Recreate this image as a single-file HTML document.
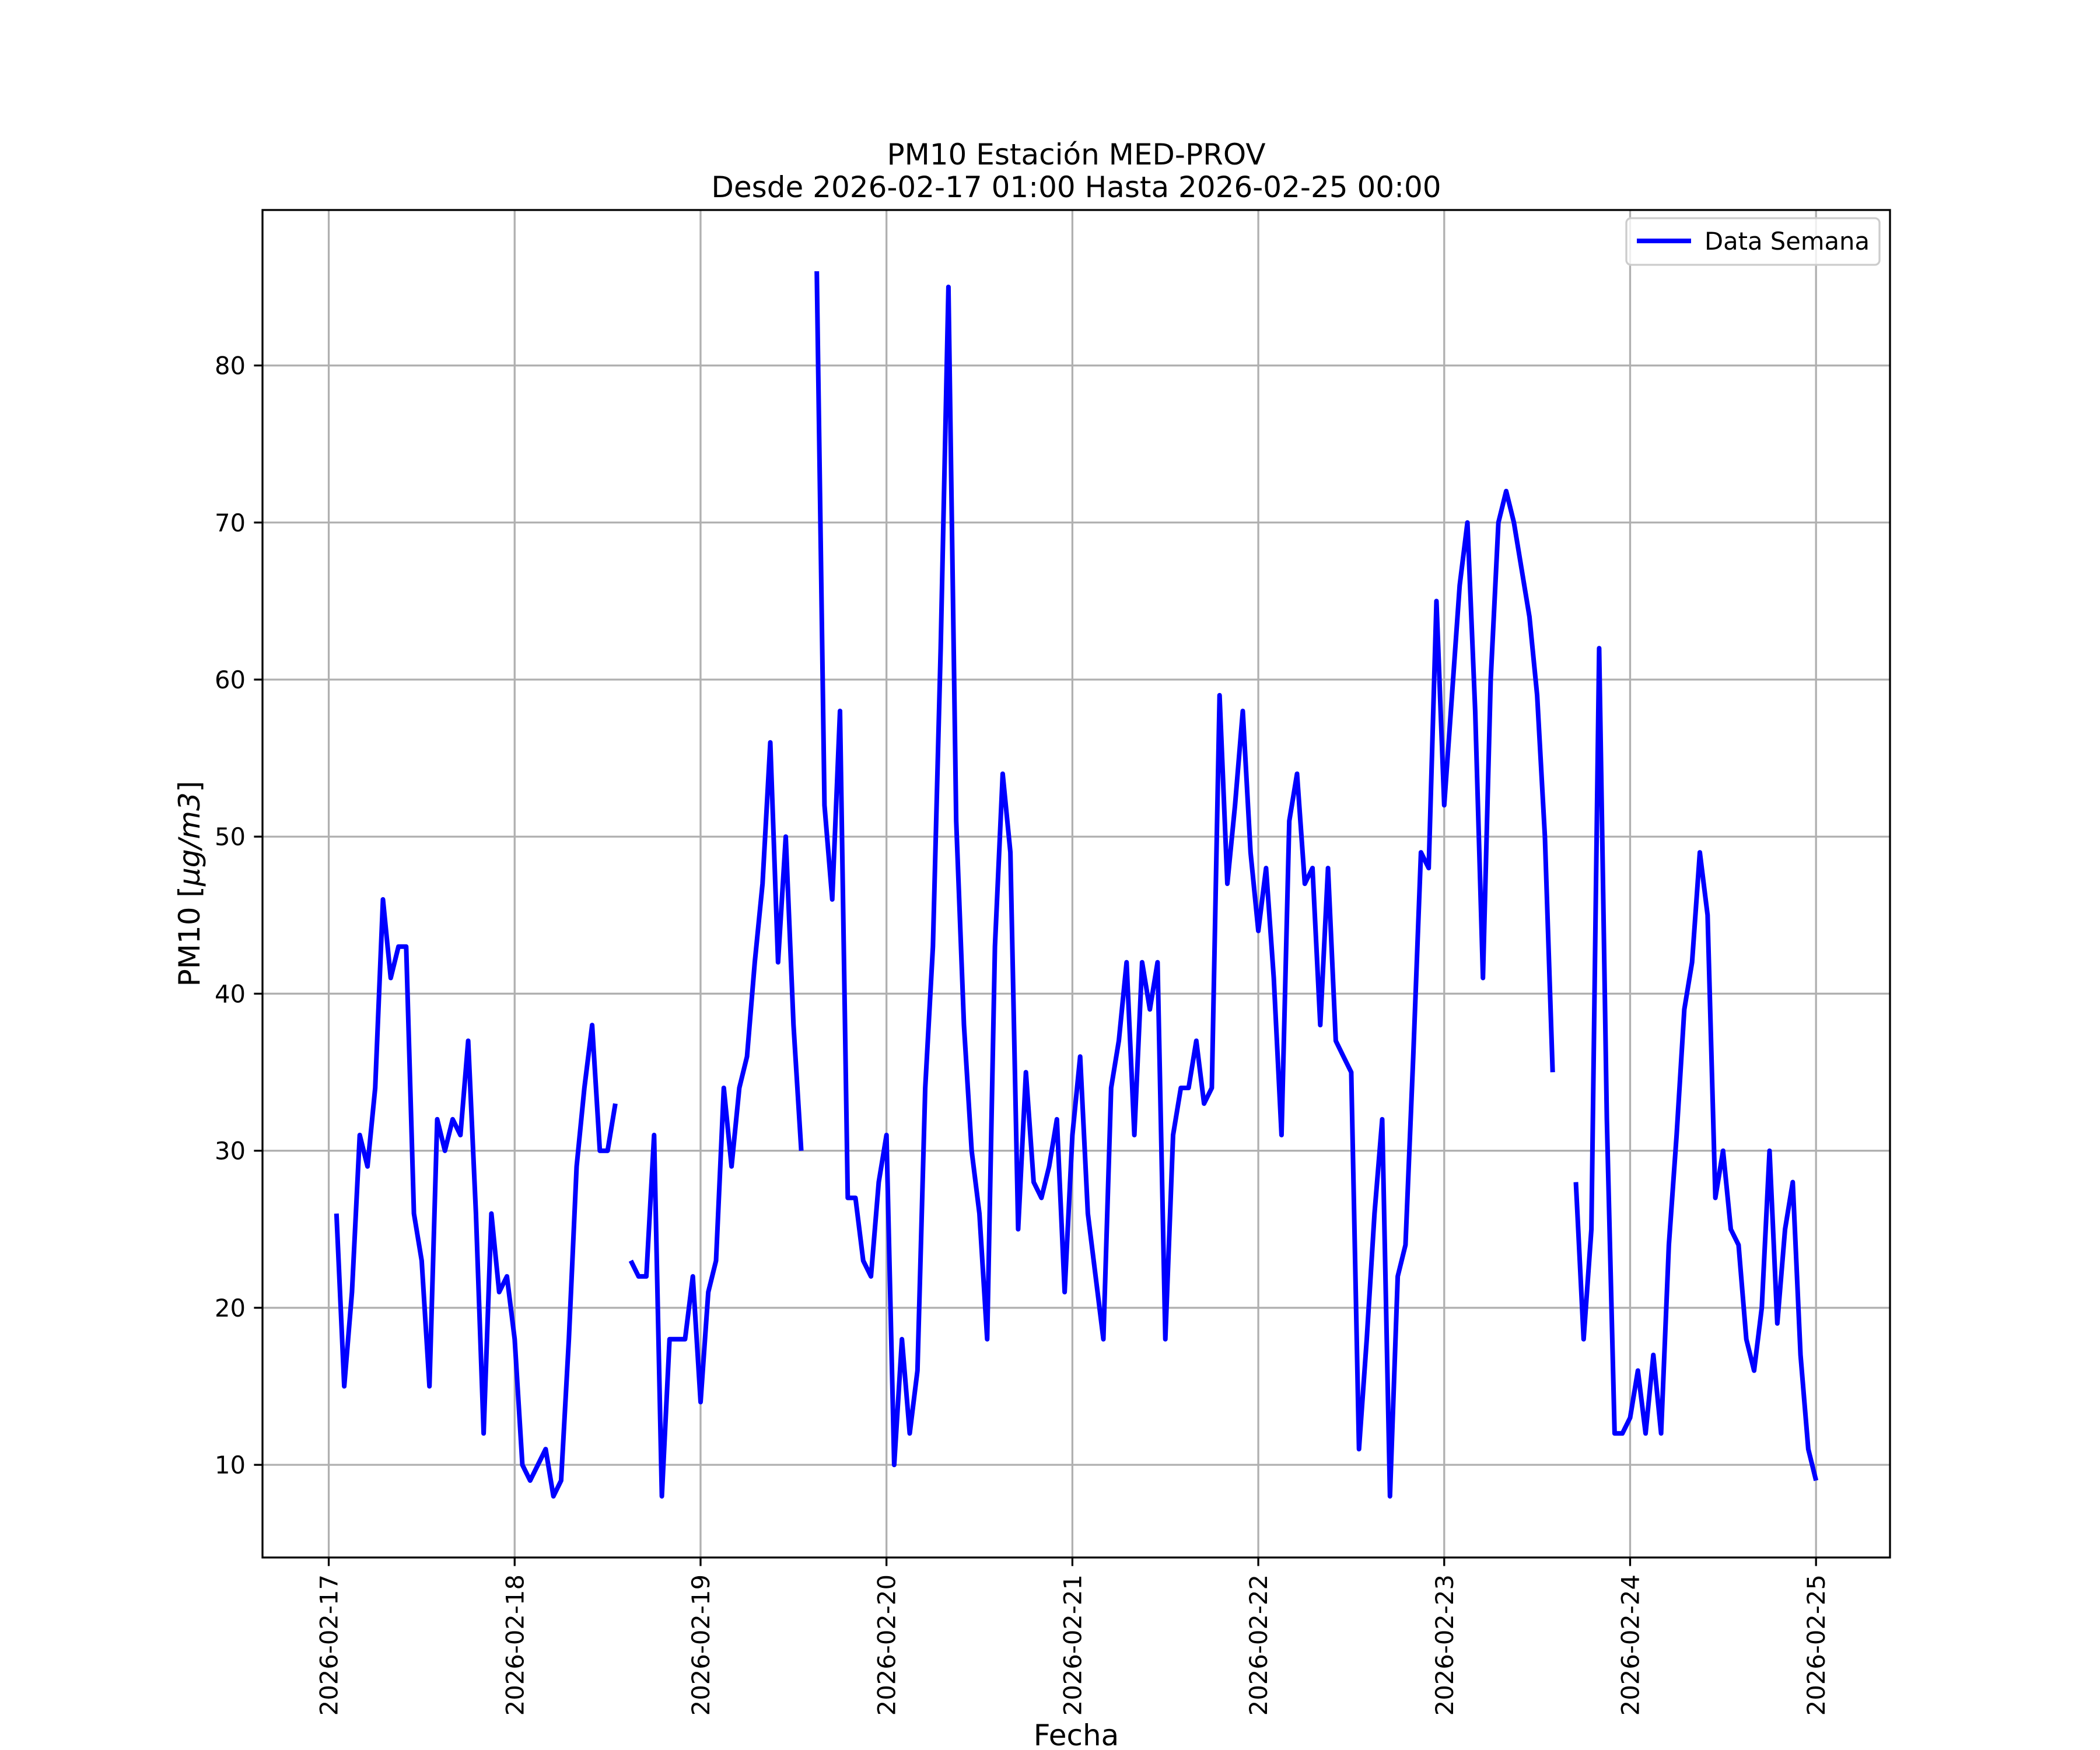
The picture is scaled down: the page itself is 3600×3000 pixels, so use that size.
<!DOCTYPE html>
<html><head><meta charset="utf-8">
<style>
html,body{margin:0;padding:0;background:#fff;}
svg{display:block;font-family:"DejaVu Sans","Liberation Sans",sans-serif;}
</style></head>
<body>
<svg id="chart" width="3600" height="3000" viewBox="0 0 3600 3000" xmlns="http://www.w3.org/2000/svg">
<rect x="0" y="0" width="3600" height="3000" fill="#fff"/>
<g id="grid"></g>
<g id="series"></g>
<rect x="450" y="360" width="2790" height="2310" fill="none" stroke="#000" stroke-width="3.3"/>
<g id="xticks"></g>
<g id="yticks"></g>
<text x="1845" y="282" font-size="50" text-anchor="middle">PM10 Estación MED-PROV</text>
<text x="1845" y="338" font-size="50" text-anchor="middle">Desde 2026-02-17 01:00 Hasta 2026-02-25 00:00</text>
<text x="1845" y="2992" font-size="50" text-anchor="middle">Fecha</text>
<text transform="translate(342,1515) rotate(-90)" font-size="50" text-anchor="middle">PM10 [<tspan font-style="italic">μg/m3</tspan>]</text>
<g>
<rect x="2788" y="374" width="434" height="80" rx="8" fill="#fff" fill-opacity="0.8" stroke="#ccc" stroke-width="3.3"/>
<line x1="2806" y1="413" x2="2899" y2="413" stroke="#0000ff" stroke-width="8"/>
<text x="2922" y="428" font-size="41.7">Data Semana</text>
</g>
</svg>
<script>
const values = [26,15,21,31,29,34,46,41,43,43,26,23,15,32,30,32,31,37,26,12,26,21,22,18,10,9,10,11,8,9,18,29,34,38,30,30,33,null,23,22,22,31,8,18,18,18,22,14,21,23,34,29,34,36,42,47,56,42,50,38,30,null,86,52,46,58,27,27,23,22,28,31,10,18,12,16,34,43,62,85,51,38,30,26,18,43,54,49,25,35,28,27,29,32,21,31,36,26,22,18,34,37,42,31,42,39,42,18,31,34,34,37,33,34,59,47,52,58,49,44,48,41,31,51,54,47,48,38,48,37,36,35,11,18,26,32,8,22,24,36,49,48,65,52,59,66,70,58,41,60,70,72,70,67,64,59,50,35,null,null,28,18,25,62,32,12,12,13,16,12,17,12,24,31,39,42,49,45,27,30,25,24,18,16,20,30,19,25,28,17,11,9];
const startHour = 1;
const xTickLabels = ["2026-02-17","2026-02-18","2026-02-19","2026-02-20","2026-02-21","2026-02-22","2026-02-23","2026-02-24","2026-02-25"];
const yTickValues = [10,20,30,40,50,60,70,80];

const NS="http://www.w3.org/2000/svg";
const L=450,R=3240,T=360,B=2670;
const xMinDay=-0.3563, xMaxDay=8.3979;
const yMin=4.1, yMax=89.9;
function xPos(day){return L+(day-xMinDay)/(xMaxDay-xMinDay)*(R-L);}
function yPos(v){return B-(v-yMin)/(yMax-yMin)*(B-T);}
function mk(tag,attrs,parent){const e=document.createElementNS(NS,tag);for(const k in attrs)e.setAttribute(k,attrs[k]);parent.appendChild(e);return e;}

const grid=document.getElementById('grid'),xt=document.getElementById('xticks'),yt=document.getElementById('yticks'),ser=document.getElementById('series');
xTickLabels.forEach((lab,i)=>{
  const x=xPos(i);
  const g=mk('line',{x1:x,y1:T,x2:x,y2:B,stroke:'#b0b0b0','stroke-width':3.3},grid);
  
  
  const t=mk('line',{x1:x,y1:B,x2:x,y2:B+14.6,stroke:'#000','stroke-width':3.3},xt);
  
  
  const tx=mk('text',{transform:`translate(${x+15},${B+29}) rotate(-90)`,'font-size':41.7,'text-anchor':'end'},xt);
  tx.textContent=lab;
  
  
});
yTickValues.forEach(v=>{
  const y=yPos(v);
  const g=mk('line',{x1:L,y1:y,x2:R,y2:y,stroke:'#b0b0b0','stroke-width':3.3},grid);
  
  
  const t=mk('line',{x1:L-14.6,y1:y,x2:L,y2:y,stroke:'#000','stroke-width':3.3},yt);
  
  
  const tx=mk('text',{x:L-29,y:y+15,'font-size':41.7,'text-anchor':'end'},yt);
  tx.textContent=String(v);
  
  
});
let d='',pen=false;
values.forEach((v,i)=>{
  if(v===null){pen=false;return;}
  const x=xPos((startHour+i)/24),y=yPos(v);
  d+=(pen?'L':'M')+x.toFixed(1)+' '+y.toFixed(1)+' ';
  pen=true;
});
const p=mk('path',{d:d,fill:'none',stroke:'#0000ff','stroke-width':8,'stroke-linejoin':'round','stroke-linecap':'butt'},ser);


</script>
</body></html>
